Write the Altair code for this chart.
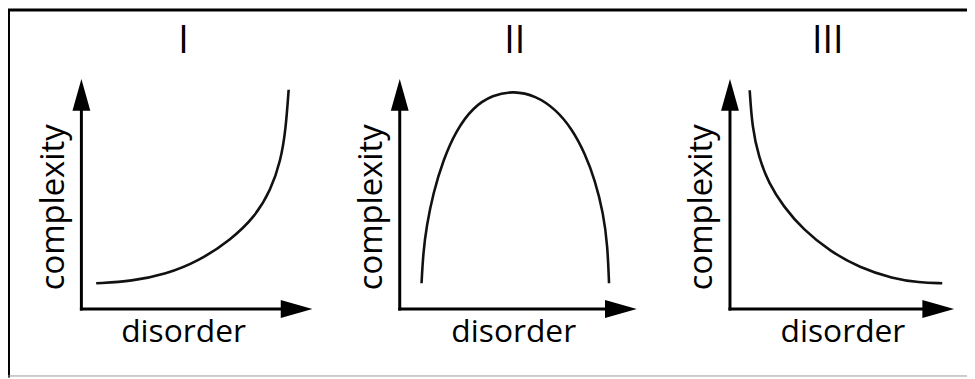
import altair as alt
import pandas as pd

# ---------------- data ----------------
# Panel I: complexity grows with disorder
p1_disorder = [0.064, 0.219, 0.365, 0.506, 0.648, 0.751, 0.820, 0.863, 0.884, 0.897]
p1_complexity = [0.112, 0.121, 0.151, 0.207, 0.302, 0.401, 0.517, 0.647, 0.776, 0.953]

# Panel II: complexity peaks at intermediate disorder
p2_disorder = [0.092, 0.099, 0.113, 0.141, 0.183, 0.238, 0.308, 0.392, 0.482,
               0.573, 0.657, 0.727, 0.782, 0.824, 0.859, 0.877, 0.883]
p2_complexity = [0.112, 0.244, 0.359, 0.503, 0.647, 0.776, 0.876, 0.931, 0.948,
                 0.927, 0.869, 0.783, 0.675, 0.560, 0.417, 0.273, 0.112]

# Panel III: complexity falls with disorder
p3_disorder = [0.088, 0.099, 0.128, 0.173, 0.239, 0.327, 0.446, 0.578, 0.726, 0.844, 0.947]
p3_complexity = [0.951, 0.790, 0.661, 0.546, 0.445, 0.345, 0.251, 0.180, 0.132, 0.115, 0.112]

panel_titles = ["I", "II", "III"]
x_label = "disorder"
y_label = "complexity"

# ---------------- layout (not data) ----------------
W, H = 967, 371
panel_geom = [(74, 233), (395, 239), (728, 226)]  # axis origin and arrow length (px)
Y0, YLEN = 302, 232
FONT = "Open Sans"

ys = alt.Scale(domain=[-(H - Y0) / YLEN, Y0 / YLEN], nice=False, zero=False)

def xs_for(o, L):
    return alt.Scale(domain=[-o / L, (W - o) / L], nice=False, zero=False)

one = alt.Data(values=[{"k": 0}])

# label anchors in data units per panel: (title x, disorder-label x, complexity-label x)
label_pos = [(0.442, 0.442, -0.077), (0.485, 0.481, -0.075), (0.436, 0.504, -0.080)]

HEAD_X = "M -2 -0.5625 L 0 0 L -2 0.5625 Z"
HEAD_Y = "M -0.5625 2 L 0 0 L 0.5625 2 Z"

layers = []
curves = [(p1_disorder, p1_complexity), (p2_disorder, p2_complexity), (p3_disorder, p3_complexity)]
for i, ((o, L), (dx, dy), title, lp) in enumerate(zip(panel_geom, curves, panel_titles, label_pos)):
    xs = xs_for(o, L)
    df = pd.DataFrame({"disorder": dx, "complexity": dy})
    # curve
    layers.append(
        alt.Chart(df).mark_line(color="#111111", strokeWidth=2.6, interpolate="basis").encode(
            x=alt.X("disorder:Q", scale=xs, axis=None),
            y=alt.Y("complexity:Q", scale=ys, axis=None),
        )
    )
    # x axis shaft
    layers.append(
        alt.Chart(one).mark_rule(color="black", strokeWidth=3, strokeCap="square").encode(
            x=alt.XDatum(0, type="quantitative", scale=xs, axis=None),
            x2=alt.X2Datum(0.95),
            y=alt.YDatum(0, type="quantitative", scale=ys, axis=None),
        )
    )
    # y axis shaft
    layers.append(
        alt.Chart(one).mark_rule(color="black", strokeWidth=3, strokeCap="square").encode(
            x=alt.XDatum(0, type="quantitative", scale=xs, axis=None),
            y=alt.YDatum(0, type="quantitative", scale=ys, axis=None),
            y2=alt.Y2Datum(0.95),
        )
    )
    # arrow heads
    layers.append(
        alt.Chart(one).mark_point(shape=HEAD_X, size=1024, filled=True, color="black",
                                  opacity=1, strokeWidth=0).encode(
            x=alt.XDatum(1, type="quantitative", scale=xs, axis=None),
            y=alt.YDatum(0, type="quantitative", scale=ys, axis=None),
        )
    )
    layers.append(
        alt.Chart(one).mark_point(shape=HEAD_Y, size=1024, filled=True, color="black",
                                  opacity=1, strokeWidth=0).encode(
            x=alt.XDatum(0, type="quantitative", scale=xs, axis=None),
            y=alt.YDatum(1, type="quantitative", scale=ys, axis=None),
        )
    )
    # panel title
    layers.append(
        alt.Chart(one).mark_text(text=title, font=FONT, fontSize=38, align="center",
                                 baseline="alphabetic", color="black").encode(
            x=alt.XDatum(lp[0], type="quantitative", scale=xs, axis=None),
            y=alt.YDatum(1.112, type="quantitative", scale=ys, axis=None),
        )
    )
    # x label
    layers.append(
        alt.Chart(one).mark_text(text=x_label, font=FONT, fontSize=32, align="center",
                                 baseline="alphabetic", color="black").encode(
            x=alt.XDatum(lp[1], type="quantitative", scale=xs, axis=None),
            y=alt.YDatum(-0.142, type="quantitative", scale=ys, axis=None),
        )
    )
    # y label
    layers.append(
        alt.Chart(one).mark_text(text=y_label, font=FONT, fontSize=33, align="center",
                                 baseline="alphabetic", angle=270, color="black").encode(
            x=alt.XDatum(lp[2], type="quantitative", scale=xs, axis=None),
            y=alt.YDatum(0.442, type="quantitative", scale=ys, axis=None),
        )
    )

# frame around the figure
layers.append(
    alt.Chart(one).mark_rule(color="black", strokeWidth=3).encode(
        x=alt.value(0), x2=alt.value(W), y=alt.value(0.5)
    )
)
layers.append(
    alt.Chart(one).mark_rule(color="black", strokeWidth=3).encode(
        x=alt.value(0.5), y=alt.value(0), y2=alt.value(H)
    )
)
layers.append(
    alt.Chart(one).mark_rule(color="#9a9a9a", strokeWidth=1).encode(
        x=alt.value(0), x2=alt.value(W), y=alt.value(369.5)
    )
)

chart = (
    alt.layer(*layers)
    .resolve_scale(x="independent", y="independent")
    .properties(width=W, height=H, padding=0, autosize="none", background="white")
    .configure_view(stroke=None)
)

chart.save("out.html", embed_options={"renderer": "svg", "actions": False})
